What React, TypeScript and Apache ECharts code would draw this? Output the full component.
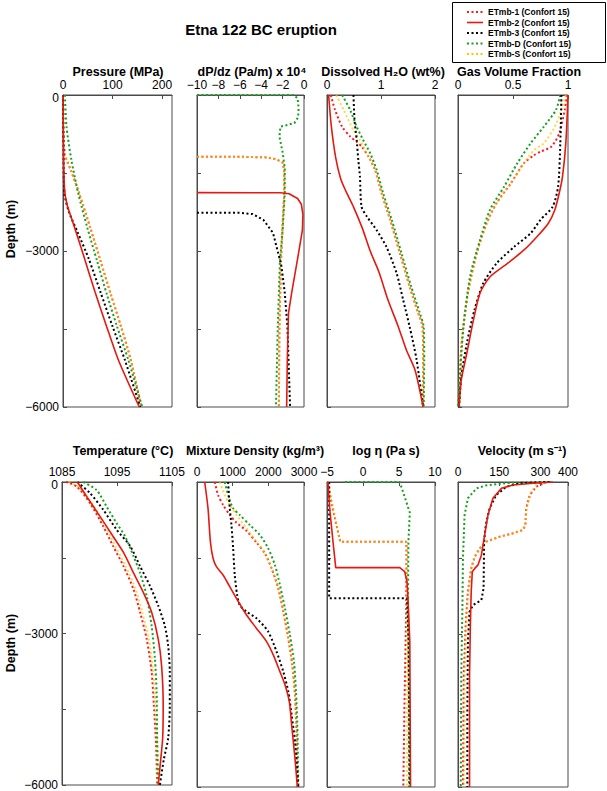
import React, { useEffect, useRef } from 'react';
import * as echarts from 'echarts';

// ---------- names ----------
const NAMES = [
  'ETmb-1 (Confort 15)',
  'ETmb-2 (Confort 15)',
  'ETmb-3 (Confort 15)',
  'ETmb-D (Confort 15)',
  'ETmb-S (Confort 15)',
];

// ---------- tick values ----------
const DEPTH_TICKS = [0, -1500, -3000, -4500, -6000];
const DEPTH_LABELS = [0, -3000, -6000];
const PRESSURE_TICKS = [0, 100, 200];
const DPDZ_TICKS = [-10, -8, -6, -4, -2, 0];
const H2O_TICKS = [0, 1, 2];
const GVF_TICKS = [0, 0.5, 1];
const TEMP_TICKS = [1085, 1095, 1105];
const DENSITY_TICKS = [0, 1000, 2000, 3000];
const VISC_TICKS = [-5, 0, 5, 10];
const VEL_TICKS = [0, 150, 300, 400];

// ---------- data: [value, depth (m)] ----------
// Pressure (MPa)
const P_1 = [[0, 0], [1, -700], [4, -1150], [16, -1450], [33, -1900], [55, -2550], [76, -3200], [97, -3850], [117, -4450], [137, -5100], [158, -6000]];
const P_2 = [[0, 0], [1, -1000], [3, -1800], [8, -2100], [20, -2450], [42, -3100], [65, -3800], [88, -4450], [112, -5100], [154, -6000]];
const P_3 = [[0, 0], [1, -1000], [3, -1900], [12, -2250], [30, -2650], [52, -3150], [76, -3800], [100, -4450], [125, -5100], [156, -6000]];
const P_D = [[4, 0], [7, -600], [17, -1250], [31, -1900], [49, -2550], [69, -3200], [89, -3850], [109, -4450], [132, -5100], [160, -6000]];
const P_S = [[0, 0], [1, -700], [4, -1150], [16, -1450], [33, -1900], [55, -2550], [76, -3200], [97, -3850], [117, -4450], [137, -5100], [158, -6000]];

// dP/dz (Pa/m x 1e4)
const G_1 = [[-10, -1186], [-6, -1188], [-3.5, -1200], [-2.6, -1235], [-2.0, -1300], [-1.85, -1450], [-1.85, -1900], [-2.0, -2500], [-2.15, -3200], [-2.3, -4500], [-2.35, -6000]];
const G_2 = [[-10, -1878], [-2.2, -1880], [-1.4, -1900], [-0.6, -1990], [-0.25, -2100], [-0.1, -2300], [-0.15, -2600], [-0.6, -3150], [-1.15, -3800], [-1.45, -4200], [-1.56, -5100], [-1.62, -6000]];
const G_3 = [[-10, -2263], [-6, -2265], [-4.8, -2290], [-3.8, -2400], [-2.9, -2650], [-2.4, -3050], [-2.1, -3300], [-1.8, -3800], [-1.55, -4450], [-1.3, -6000]];
const G_D = [[-10, 0], [-1.0, 0], [-0.6, -60], [-0.5, -250], [-0.55, -430], [-0.9, -540], [-2.2, -610], [-2.3, -800], [-2.0, -1100], [-1.8, -1400], [-1.8, -1900], [-2.0, -2600], [-2.25, -3200], [-2.45, -4450], [-2.62, -6000]];
const G_S = [[-10, -1186], [-6, -1188], [-3.5, -1200], [-2.6, -1235], [-2.0, -1300], [-1.85, -1450], [-1.85, -1900], [-2.0, -2500], [-2.15, -3200], [-2.3, -4500], [-2.35, -6000]];

// Dissolved H2O (wt%)
const H_1 = [[0.07, 0], [0.15, -290], [0.28, -610], [0.43, -800], [0.55, -900], [0.65, -1000], [0.77, -1186], [0.89, -1443], [1.01, -1890], [1.17, -2404], [1.35, -3045], [1.53, -3686], [1.69, -4198], [1.77, -4455], [1.78, -5200], [1.78, -6000]];
const H_2 = [[0.03, 0], [0.08, -600], [0.16, -1200], [0.25, -1600], [0.35, -1850], [0.49, -2150], [0.65, -2550], [0.8, -3000], [0.96, -3400], [1.13, -3943], [1.32, -4455], [1.47, -4904], [1.63, -5289], [1.78, -6000]];
const H_3 = [[0.49, 0], [0.51, -480], [0.55, -870], [0.58, -1250], [0.61, -1570], [0.64, -2150], [0.74, -2340], [0.92, -2600], [1.1, -2920], [1.29, -3430], [1.41, -3940], [1.53, -4455], [1.66, -5096], [1.78, -6000]];
const H_D = [[0.28, 0], [0.43, -290], [0.55, -610], [0.67, -866], [0.8, -1122], [0.92, -1443], [1.04, -1890], [1.2, -2404], [1.38, -3045], [1.56, -3686], [1.72, -4198], [1.79, -4455], [1.8, -5096], [1.79, -6000]];
const H_S = [[0.17, 0], [0.31, -290], [0.49, -674], [0.61, -866], [0.77, -1186], [0.89, -1443], [1.01, -1890], [1.17, -2404], [1.35, -3045], [1.53, -3686], [1.69, -4198], [1.77, -4455], [1.78, -5200], [1.78, -6000]];

// Gas volume fraction
const F_1 = [[0.99, 0], [0.97, -290], [0.92, -740], [0.85, -990], [0.75, -1090], [0.69, -1160], [0.6, -1310], [0.48, -1700], [0.35, -2080], [0.26, -2470], [0.17, -3045], [0.09, -3810], [0.03, -4840], [0.01, -6000]];
const F_2 = [[1.0, 0], [0.98, -930], [0.95, -1570], [0.92, -1890], [0.88, -2210], [0.82, -2470], [0.72, -2720], [0.6, -2980], [0.45, -3240], [0.29, -3500], [0.2, -3810], [0.14, -4330], [0.08, -4970], [0.03, -5480], [0.01, -6000]];
const F_3 = [[0.94, 0], [0.93, -930], [0.91, -1760], [0.86, -2150], [0.75, -2400], [0.66, -2660], [0.51, -2920], [0.35, -3240], [0.23, -3620], [0.15, -4130], [0.08, -4780], [0.03, -5420], [0.01, -6000]];
const F_D = [[0.93, 0], [0.89, -290], [0.78, -610], [0.66, -930], [0.54, -1310], [0.42, -1760], [0.29, -2210], [0.2, -2790], [0.11, -3490], [0.05, -4455], [0.0, -6000]];
const F_S = [[0.98, 0], [0.94, -290], [0.88, -610], [0.78, -930], [0.69, -1060], [0.6, -1310], [0.48, -1700], [0.35, -2080], [0.26, -2470], [0.17, -3045], [0.09, -3810], [0.03, -4840], [0.01, -6000]];

// Temperature (°C)
const T_1 = [[1085.7, 0], [1087.7, -90], [1090.1, -420], [1092.5, -880], [1094.3, -1270], [1096.2, -1670], [1098, -2125], [1099.2, -2580], [1100.4, -3110], [1101.3, -3760], [1101.7, -4420], [1102.1, -5200], [1102.3, -6000]];
const T_2 = [[1087.8, 0], [1089.5, -290], [1091.9, -680], [1094.3, -1080], [1096.2, -1400], [1098, -1800], [1099.8, -2190], [1101.3, -2580], [1102.5, -3110], [1103.1, -3630], [1103.4, -4420], [1103.3, -5075], [1102.8, -5660], [1102.5, -6000]];
const T_3 = [[1087.8, 0], [1090.1, -220], [1092.5, -550], [1094.9, -940], [1097.4, -1270], [1099.2, -1670], [1101, -2060], [1102.5, -2450], [1103.7, -2850], [1104.3, -3240], [1104.6, -3760], [1104.6, -4420], [1104.3, -5075], [1103.5, -5500], [1102.8, -6000]];
const T_D = [[1088.9, 0], [1091.3, -160], [1093.1, -485], [1094.9, -810], [1096.5, -1080], [1098, -1470], [1099.2, -1800], [1100.4, -2260], [1101.3, -2850], [1101.9, -3500], [1102.2, -4160], [1102.3, -5075], [1102.5, -6000]];
const T_S = [[1086.2, 0], [1088.1, -110], [1090.5, -430], [1092.9, -880], [1094.7, -1270], [1096.6, -1670], [1098.4, -2125], [1099.6, -2580], [1100.8, -3110], [1101.6, -3760], [1102.0, -4420], [1102.3, -5200], [1102.4, -6000]];

// Mixture density (kg/m3)
const D_1 = [[497, 0], [591, -256], [731, -452], [919, -649], [1106, -800], [1388, -960], [1669, -1190], [1903, -1403], [2091, -1698], [2278, -2092], [2419, -2551], [2559, -3075], [2672, -3600], [2747, -4190], [2794, -4977], [2822, -6000]];
const D_2 = [[216, 0], [309, -520], [375, -1170], [450, -1500], [544, -1665], [731, -1830], [919, -2060], [1106, -2290], [1388, -2616], [1669, -2880], [1950, -3140], [2138, -3400], [2325, -3730], [2466, -3990], [2588, -4320], [2653, -4780], [2747, -5436], [2813, -6000]];
const D_3 = [[872, 0], [919, -520], [966, -846], [1013, -1305], [1059, -1830], [1125, -2223], [1200, -2420], [1388, -2551], [1669, -2682], [1997, -2944], [2231, -3338], [2419, -3731], [2560, -4124], [2653, -4584], [2747, -5108], [2841, -6000]];
const D_D = [[778, 0], [900, -320], [1013, -518], [1200, -650], [1481, -846], [1763, -1043], [1997, -1305], [2184, -1633], [2325, -2026], [2466, -2485], [2606, -3010], [2719, -3534], [2775, -4124], [2813, -4780], [2841, -6000]];
const D_S = [[638, 0], [778, -256], [919, -452], [1106, -649], [1388, -911], [1669, -1174], [1903, -1403], [2091, -1698], [2278, -2092], [2419, -2551], [2559, -3075], [2672, -3600], [2747, -4190], [2794, -4977], [2822, -6000]];

// log viscosity (Pa s)
const V_1 = [[-4.86, 0], [-4.4, -390], [-3.9, -715], [-3.2, -1150], [-3.2, -1174], [6.0, -1174], [6.05, -1300], [6.0, -2500], [5.75, -4450], [5.6, -6000]];
const V_2 = [[-4.86, 0], [-4.63, -520], [-4.17, -1170], [-3.8, -1665], [-3.8, -1685], [5.1, -1685], [5.8, -1765], [6.1, -1960], [6.25, -2290], [6.5, -3140], [6.6, -6000]];
const V_3 = [[-4.7, 0], [-4.7, -2289], [6.1, -2289], [6.35, -3140], [6.5, -6000]];
const V_D = [[-2.5, 0], [5.1, 0], [6.5, -600], [6.3, -1200], [6.25, -2400], [6.35, -4000], [6.4, -6000]];
const V_S = [[-4.8, 0], [-4.35, -390], [-3.85, -715], [-3.2, -1150], [-3.2, -1174], [6.0, -1174], [6.1, -1300], [6.15, -2500], [6.1, -4450], [6.1, -6000]];

// Velocity (m/s)
const U_1 = [[321, 0], [285, -92], [261, -256], [248, -518], [245, -846], [236, -944], [200, -1010], [152, -1075], [103, -1174], [79, -1305], [61, -1469], [48, -1698], [36, -2157], [28, -2813], [21, -3796], [18, -6000]];
const U_2 = [[345, 0], [273, -26], [200, -60], [158, -125], [127, -320], [109, -650], [97, -1040], [85, -1440], [73, -1630], [61, -1700], [52, -1765], [48, -2160], [45, -2810], [42, -3800], [42, -6000]];
const U_3 = [[333, 0], [224, -26], [176, -92], [139, -256], [115, -518], [101, -846], [95, -1174], [93, -2092], [85, -2321], [55, -2420], [42, -2551], [36, -3141], [34, -4452], [34, -6000]];
const U_D = [[335, 0], [250, -8], [180, -20], [100, -70], [67, -125], [36, -320], [24, -650], [18, -1500], [16, -2485], [12, -3796], [10, -6000]];
const U_S = [[300, 0], [285, -60], [265, -200], [250, -518], [245, -846], [236, -944], [200, -1010], [152, -1075], [103, -1174], [79, -1305], [61, -1469], [48, -1698], [38, -2157], [31, -2813], [25, -3796], [23, -6000]];

// ---------- styling / layout ----------
const FONT = "'Liberation Sans', Arial, Helvetica, sans-serif";
const STYLES = [
  { color: '#ff1a1a', dotted: true, width: 2, opacity: 1 },
  { color: '#e41a10', dotted: false, width: 1.6, opacity: 1 },
  { color: '#000000', dotted: true, width: 2, opacity: 1 },
  { color: '#16a020', dotted: true, width: 2, opacity: 1 },
  { color: '#ffc400', dotted: true, width: 2, opacity: 0.7 },
];
const DRAW_ORDER = [0, 4, 3, 2, 1];
const DOT = [2, 2.5];

const PANELS = [
  { title: 'Pressure (MPa)', tx: 118, ty: 72, min: 0, max: 220, ticks: PRESSURE_TICKS, data: [P_1, P_2, P_3, P_D, P_S], left: 63, top: 95, width: 109, height: 312, smooth: 0.25 },
  { title: 'dP/dz (Pa/m) x 10\u2074', tx: 252, ty: 72, min: -10, max: 0, ticks: DPDZ_TICKS, data: [G_1, G_2, G_3, G_D, G_S], left: 197, top: 95, width: 107, height: 312, smooth: 0 },
  { title: 'Dissolved H\u2082O (wt%)', tx: 383, ty: 72, min: 0, max: 2, ticks: H2O_TICKS, data: [H_1, H_2, H_3, H_D, H_S], left: 327, top: 95, width: 108, height: 312, smooth: 0.25 },
  { title: 'Gas Volume Fraction', tx: 519, ty: 72, min: 0, max: 1, ticks: GVF_TICKS, data: [F_1, F_2, F_3, F_D, F_S], left: 458, top: 95, width: 110, height: 312, smooth: 0.25 },
  { title: 'Temperature (\u00B0C)', tx: 123, ty: 451, min: 1085, max: 1105, ticks: TEMP_TICKS, data: [T_1, T_2, T_3, T_D, T_S], left: 62, top: 482, width: 110, height: 305, smooth: 0.25 },
  { title: 'Mixture Density (kg/m\u00B3)', tx: 255, ty: 451, min: 0, max: 3000, ticks: DENSITY_TICKS, data: [D_1, D_2, D_3, D_D, D_S], left: 197, top: 482, width: 107, height: 305, smooth: 0.25 },
  { title: 'log \u03B7 (Pa s)', tx: 386, ty: 451, min: -5, max: 10, ticks: VISC_TICKS, data: [V_1, V_2, V_3, V_D, V_S], left: 327, top: 482, width: 108, height: 305, smooth: 0 },
  { title: 'Velocity (m s\u207B\u00B9)', tx: 522, ty: 451, min: 0, max: 400, ticks: VEL_TICKS, data: [U_1, U_2, U_3, U_D, U_S], left: 458, top: 482, width: 110, height: 305, smooth: 0 },
];

const fmt = (v: number) => (v < 0 ? '\u2212' + Math.abs(v) : String(v));
const fmtY = (v: number) => (v === 0 ? '{z|0}' : fmt(v));
const AXIS_COLOR = '#4a4a4a';

// legend layout (graphic)
const LEG_X = 452;
const LEG_Y = 2;
const LEG_W = 153;
const LEG_H = 60;
const LEG_ROW0 = 12;
const LEG_STEP = 10.5;

function buildLegend() {
  const els: any[] = [
    {
      type: 'rect', shape: { x: LEG_X + 0.5, y: LEG_Y + 0.5, width: LEG_W, height: LEG_H },
      style: { fill: '#fff', stroke: '#000', lineWidth: 1 }, z: 100,
    },
  ];
  NAMES.forEach((n, k) => {
    const st = STYLES[k];
    const y = LEG_ROW0 + k * LEG_STEP;
    els.push({
      type: 'line', shape: { x1: 467, y1: y, x2: 483, y2: y }, z: 101,
      style: { stroke: st.color, lineWidth: st.width, lineDash: st.dotted ? DOT : null },
    });
    els.push({
      type: 'text', x: 488, y, z: 101,
      style: {
        text: n, fill: '#000', font: `bold 8.5px ${FONT}`,
        textAlign: 'left', textVerticalAlign: 'middle', align: 'left', verticalAlign: 'middle',
      },
    });
  });
  return els;
}

function buildOption() {
  const grid: any[] = [];
  const xAxis: any[] = [];
  const yAxis: any[] = [];
  const series: any[] = [];
  const title: any[] = [
    {
      text: 'Etna 122 BC eruption', left: 261, top: 29, padding: 0,
      textAlign: 'center', textVerticalAlign: 'middle',
      textStyle: { fontFamily: FONT, fontSize: 15, fontWeight: 'bold', color: '#000' },
    },
  ];

  PANELS.forEach((p, i) => {
    grid.push({
      left: p.left, top: p.top, width: p.width, height: p.height,
      show: true, borderColor: AXIS_COLOR, borderWidth: 1, backgroundColor: 'transparent',
    });
    xAxis.push({
      gridIndex: i, type: 'value', position: 'top', min: p.min, max: p.max,
      axisLine: { show: true, onZero: false, lineStyle: { color: AXIS_COLOR, width: 1 } },
      axisTick: { show: true, inside: true, length: 4, customValues: p.ticks, lineStyle: { color: AXIS_COLOR } },
      axisLabel: { customValues: p.ticks, formatter: fmt, color: '#000', fontFamily: FONT, fontSize: 12, margin: 4 },
      splitLine: { show: false },
    });
    const firstCol = i === 0 || i === 4;
    yAxis.push({
      gridIndex: i, type: 'value', min: -6000, max: 0,
      axisLine: { show: true, onZero: false, lineStyle: { color: AXIS_COLOR, width: 1 } },
      axisTick: { show: true, inside: true, length: 4, customValues: DEPTH_TICKS, lineStyle: { color: AXIS_COLOR } },
      axisLabel: {
        show: firstCol, customValues: DEPTH_LABELS, formatter: fmtY, color: '#000',
        fontFamily: FONT, fontSize: 12, margin: 4,
        rich: { z: { fontFamily: FONT, fontSize: 12, color: '#000', padding: [5, 0, 0, 0] } },
      },
      splitLine: { show: false },
    });
    title.push({
      text: p.title, left: p.tx, top: p.ty, padding: 0,
      textAlign: 'center', textVerticalAlign: 'middle',
      textStyle: { fontFamily: FONT, fontSize: 12.5, fontWeight: 'bold', color: '#000' },
    });
    DRAW_ORDER.forEach((k) => {
      const st = STYLES[k];
      series.push({
        type: 'line', name: NAMES[k], xAxisIndex: i, yAxisIndex: i,
        data: p.data[k], symbol: 'none', showSymbol: false,
        smooth: p.smooth,
        clip: true,
        lineStyle: {
          color: st.color, width: st.width, opacity: st.opacity,
          type: st.dotted ? DOT : 'solid', cap: 'butt',
        },
        itemStyle: { color: st.color, opacity: st.opacity },
        emphasis: { disabled: true },
        silent: true,
      });
    });
  });

  return {
    animation: false,
    backgroundColor: '#ffffff',
    title,
    grid,
    xAxis,
    yAxis,
    series,
    graphic: [
      ...buildLegend(),
      {
        type: 'text', x: 11, y: 229, rotation: Math.PI / 2,
        style: { text: 'Depth (m)', fill: '#000', font: `bold 12.5px ${FONT}`, textAlign: 'center', textVerticalAlign: 'middle', align: 'center', verticalAlign: 'middle' },
      },
      {
        type: 'text', x: 11, y: 643, rotation: Math.PI / 2,
        style: { text: 'Depth (m)', fill: '#000', font: `bold 12.5px ${FONT}`, textAlign: 'center', textVerticalAlign: 'middle', align: 'center', verticalAlign: 'middle' },
      },
    ],
  };
}

export default function App() {
  const ref = useRef<HTMLDivElement>(null);
  useEffect(() => {
    if (!ref.current) return;
    const chart = echarts.init(ref.current, undefined, { renderer: 'svg' });
    chart.setOption(buildOption() as any);
    return () => chart.dispose();
  }, []);
  return (
    <div
      ref={ref}
      style={{ position: 'absolute', left: 0, top: 0, width: 607, height: 791, background: '#fff' }}
    />
  );
}
